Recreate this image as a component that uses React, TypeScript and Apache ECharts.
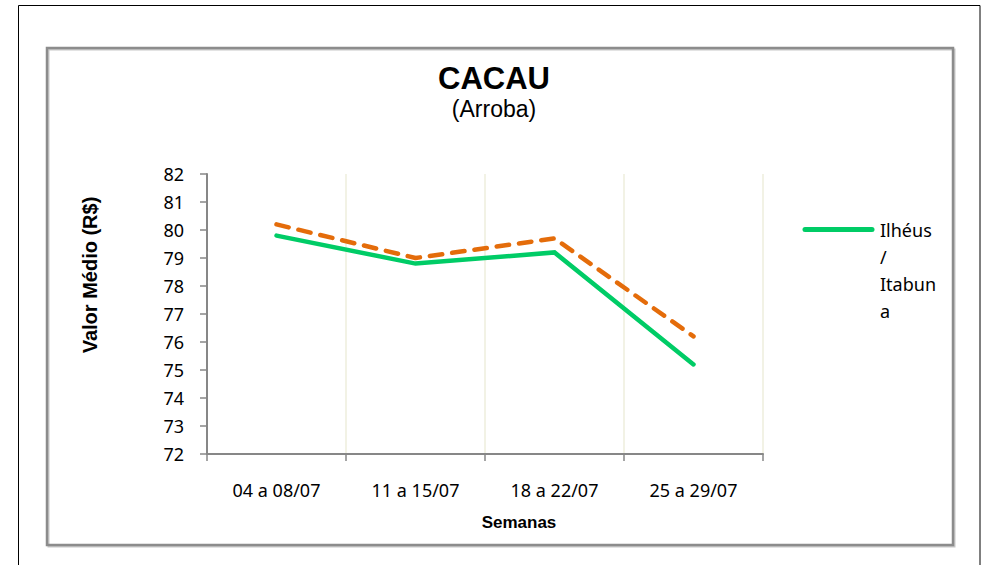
import React, { useEffect, useRef } from "react";
import * as echarts from "echarts";

const categories = ["04 a 08/07", "11 a 15/07", "18 a 22/07", "25 a 29/07"];
const ilheusItabuna = [79.8, 78.8, 79.2, 75.2];
const serie2 = [80.2, 79.0, 79.7, 76.2];
const yMin = 72;
const yMax = 82;
const yStep = 1;
const legendLabel = "Ilhéus\n/\nItabun\na";

export default function App() {
  const ref = useRef<HTMLDivElement>(null);

  useEffect(() => {
    if (!ref.current) return;
    const chart = echarts.init(ref.current, undefined, { renderer: "svg" });
    chart.setOption({
      animation: false,
      backgroundColor: "#ffffff",
      title: {
        text: "CACAU",
        subtext: "(Arroba)",
        left: 489,
        textAlign: "center",
        top: 58,
        itemGap: 3,
        textStyle: {
          fontFamily: "Liberation Sans",
          fontWeight: "bold",
          fontSize: 31,
          lineHeight: 31,
          color: "#000",
        },
        subtextStyle: {
          fontFamily: "Liberation Sans",
          fontSize: 23,
          lineHeight: 23,
          color: "#000",
        },
      },
      grid: { left: 207, right: 219, top: 174, bottom: 111 },
      xAxis: {
        type: "category",
        data: categories,
        boundaryGap: true,
        name: "Semanas",
        nameLocation: "middle",
        nameGap: 60,
        nameTextStyle: {
          fontFamily: "Liberation Sans",
          fontWeight: "bold",
          fontSize: 17,
          color: "#000",
          padding: [0, 0, 0, 68],
        },
        axisLine: { lineStyle: { color: "#878787", width: 2 } },
        axisTick: { show: true, length: 7, lineStyle: { color: "#878787", width: 1.5 } },
        axisLabel: {
          fontFamily: "Noto Sans",
          fontSize: 18,
          color: "#000",
          margin: 27,
        },
        splitLine: { show: true, lineStyle: { color: "#EEEEDC", width: 1.5 } },
      },
      yAxis: {
        type: "value",
        min: yMin,
        max: yMax,
        interval: yStep,
        name: "Valor Médio (R$)",
        nameLocation: "middle",
        nameGap: 107,
        nameRotate: 90,
        nameTextStyle: {
          fontFamily: "Liberation Sans",
          fontWeight: "bold",
          fontSize: 20,
          color: "#000",
          padding: [0, 0, 0, 78],
        },
        axisLine: { show: true, lineStyle: { color: "#878787", width: 2 } },
        axisTick: { show: true, length: 7, lineStyle: { color: "#878787", width: 1.5 } },
        axisLabel: {
          fontFamily: "Noto Sans",
          fontSize: 18,
          color: "#000",
          margin: 23,
        },
        splitLine: { show: false },
      },
      series: [
        {
          name: "Ilhéus / Itabuna",
          type: "line",
          data: ilheusItabuna,
          symbol: "none",
          lineStyle: { color: "#00CC66", width: 4.5, cap: "round", join: "miter" },
          itemStyle: { color: "#00CC66" },
          z: 3,
        },
        {
          name: "Série 2",
          type: "line",
          data: serie2,
          symbol: "none",
          lineStyle: { color: "#E46C0A", width: 4.5, type: [12.5, 10], cap: "round" },
          itemStyle: { color: "#E46C0A" },
          z: 4,
        },
      ],
      graphic: [
        {
          type: "rect",
          shape: { x: 18.5, y: 5.5, width: 961.5, height: 620 },
          style: { fill: "none", stroke: "#000", lineWidth: 1 },
          silent: true,
        },
        {
          type: "rect",
          shape: { x: 48.5, y: 49.5, width: 906, height: 497 },
          style: { fill: "none", stroke: "#C8C8C8", lineWidth: 2 },
          silent: true,
        },
        {
          type: "rect",
          shape: { x: 47, y: 48, width: 906, height: 497 },
          style: { fill: "none", stroke: "#8C8C8C", lineWidth: 2.5 },
          silent: true,
        },
        {
          type: "line",
          shape: { x1: 805, y1: 229.5, x2: 872, y2: 229.5 },
          style: { stroke: "#00CC66", lineWidth: 5, lineCap: "round" },
        },
        {
          type: "text",
          left: 880,
          top: 216,
          style: {
            text: legendLabel,
            fontFamily: "Noto Sans",
            fontSize: 18,
            lineHeight: 27,
            fill: "#000",
          },
        },
      ],
    });
    return () => chart.dispose();
  }, []);

  return (
    <div
      ref={ref}
      style={{ position: "fixed", left: 0, top: 0, width: 982, height: 565 }}
    />
  );
}
